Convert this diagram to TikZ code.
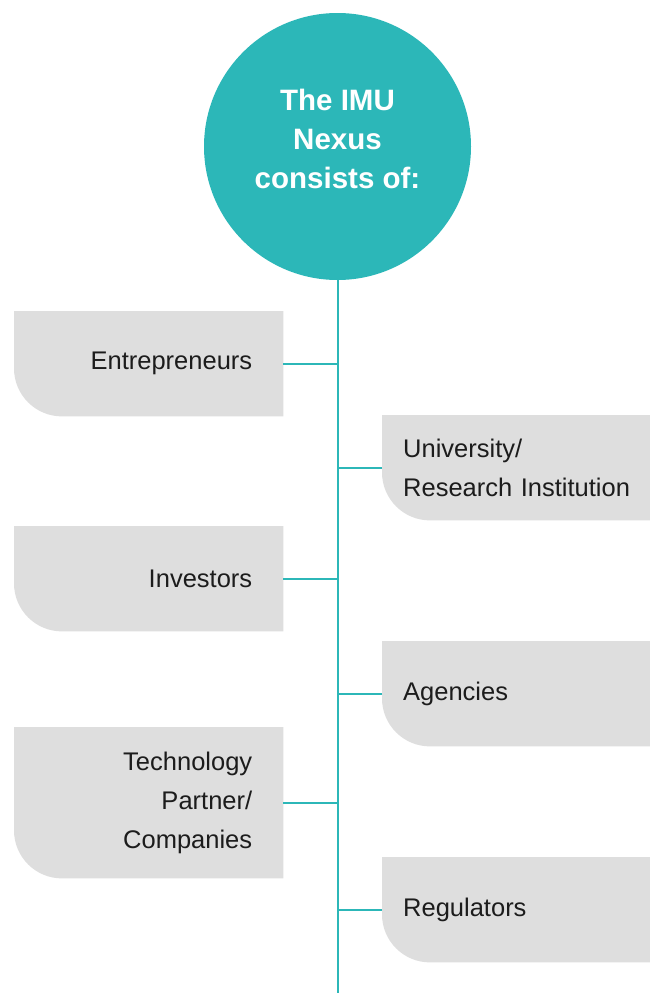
\documentclass[tikz,border=0pt]{standalone}
\usepackage{fontspec}
\setmainfont{Liberation Sans}
\usetikzlibrary{positioning,backgrounds}

\definecolor{nexusteal}{HTML}{2CB7B8}
\definecolor{boxgray}{HTML}{DEDEDE}
\definecolor{inkdark}{HTML}{1C1C1C}

\tikzset{
	hub/.style={circle, fill=nexusteal, minimum size=267pt, inner sep=0pt,
		text=white, align=center, font=\fontsize{29.5}{39}\selectfont\bfseries,
		text depth=16pt},
	leftbox/.style={anchor=north west, inner xsep=31pt, inner ysep=0pt,
		text width=207pt, align=right, text=inkdark,
		font=\fontsize{25.5}{39}\selectfont},
	rightbox/.style={anchor=north west, minimum height=105pt, inner xsep=21pt,
		inner ysep=0pt, text width=248pt, align=left, text=inkdark,
		font=\fontsize{25.5}{39}\selectfont},
	link/.style={draw=nexusteal, line width=2pt},
}

\begin{document}
\begin{tikzpicture}[x=1pt, y=1pt]
		\def\cornerRadius{48pt} % Radius of the rounded corner
		
		% Frame of the page
		\useasboundingbox (0,0) rectangle (649,-993);
		
		% Draw the hub
		\node[hub] (hub) at (337.5,-146.5) {The IMU\\Nexus\\consists of:};
		
		% Draw the spine down to the bottom edge
		\coordinate (spineend) at (hub.south |- 0,-993);
		\draw[link] (hub.south) -- (spineend);
		
		% Boxes on the left side
		\foreach \name/\ytop/\boxh/\txt in {entre/311/105/{Entrepreneurs},
			invest/526/105/{Investors},
			techno/727/151/{Technology\\Partner/\\Companies}} {
			\node[leftbox, minimum height=\boxh pt] (\name) at (14,-\ytop) {\txt};
			\begin{pgfonlayer}{background}
				\fill[boxgray] (\name.north west) -- (\name.north east) -- (\name.south east)
				-- ([xshift=\cornerRadius]\name.south west)
				arc[start angle=270, end angle=180, radius=\cornerRadius] -- cycle;
			\end{pgfonlayer}
			\draw[link] (\name.east) -- (\name.east -| spineend);
		}
		
		% Boxes on the right side
		\foreach \name/\ytop/\txt in {univ/415/{University/\\Research Institution},
			agency/641/{Agencies},
			regul/857/{Regulators}} {
			\node[rightbox] (\name) at (382,-\ytop) {\txt};
			\begin{pgfonlayer}{background}
				\fill[boxgray] (\name.north west) -- (\name.north east) -- (\name.south east)
				-- ([xshift=\cornerRadius]\name.south west)
				arc[start angle=270, end angle=180, radius=\cornerRadius] -- cycle;
			\end{pgfonlayer}
			\draw[link] (\name.west) -- (\name.west -| spineend);
		}
	\end{tikzpicture}
\end{document}
